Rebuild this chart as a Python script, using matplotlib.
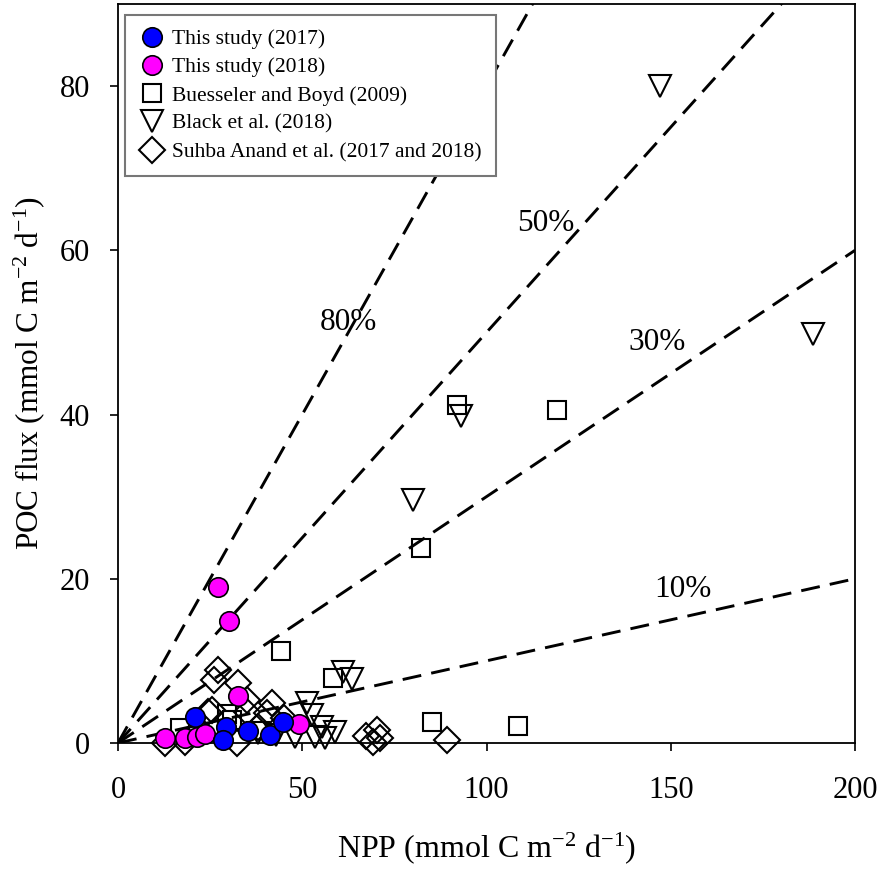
import numpy as np
import matplotlib
matplotlib.use("Agg")
import matplotlib.pyplot as plt

plt.rcParams['font.family'] = ['Liberation Serif', 'DejaVu Serif']
plt.rcParams['mathtext.fontset'] = 'custom'
plt.rcParams['mathtext.rm'] = 'Liberation Serif'
plt.rcParams['mathtext.it'] = 'Liberation Serif:italic'

# data (NPP, POC flux)
x_2017 = [20.9, 29.3, 28.5, 35.4, 41.3, 44.8]
y_2017 = [3.2, 1.9, 0.4, 1.5, 1.0, 2.5]

x_2018 = [27.1, 30.1, 32.5, 49.1, 12.8, 18.1, 21.3, 23.5]
y_2018 = [19.0, 14.9, 5.7, 2.3, 0.6, 0.6, 0.7, 1.1]

x_bb = [92.0, 119.2, 82.2, 44.2, 58.3, 85.2, 108.5, 29.7, 16.8, 31.0]
y_bb = [41.2, 40.6, 23.7, 11.2, 7.9, 2.6, 2.1, 3.5, 1.8, 2.8]

x_black = [147.0, 188.6, 93.1, 80.0, 61.0, 63.5, 51.3, 52.6, 55.4, 58.9, 53.5, 56.2, 43.0, 48.0, 38.0]
y_black = [80.0, 49.8, 39.8, 29.6, 8.7, 7.8, 4.9, 3.4, 2.0, 1.3, 0.7, 0.6, 1.0, 0.7, 1.2]

x_anand = [27.1, 26.0, 32.6, 35.0, 41.7, 40.4, 35.0, 24.4, 25.5, 12.8, 18.2, 32.3,
           67.2, 70.3, 69.2, 71.0, 89.3, 45.0, 38.0]
y_anand = [8.9, 7.7, 7.3, 5.2, 4.9, 3.6, 3.8, 3.8, 4.0, 0.0, 0.1, 0.0,
           0.8, 1.6, 0.1, 0.6, 0.4, 3.0, 2.0]

# export efficiency lines
ratios = [0.8, 0.5, 0.3, 0.1]
ratio_labels = ['80%', '50%', '30%', '10%']
label_x = [62.4, 116.1, 146.3, 153.3]
label_y = [51.2, 63.3, 48.8, 18.7]

fig = plt.figure(figsize=(8.86, 8.71), dpi=100)
ax = fig.add_axes([0.1332, 0.147, 0.8318, 0.8484])

xx = np.array([0, 200])
for r in ratios:
    ax.plot(xx, r * xx, color='black', lw=2.1, dashes=(6.5, 3.5), zorder=1)
for t, lx, ly in zip(ratio_labels, label_x, label_y):
    ax.text(lx, ly, t, fontsize=22.5, ha='center', va='center')

ms = 14
ax.plot(x_anand, y_anand, 'D', ms=13, mfc='none', mec='black', mew=1.5, ls='none',
        clip_on=False, zorder=2, label='Suhba Anand et al. (2017 and 2018)')
ax.plot(x_black, y_black, 'v', ms=16, mfc='none', mec='black', mew=1.5, ls='none',
        clip_on=False, zorder=2, label='Black et al. (2018)')
ax.plot(x_bb, y_bb, 's', ms=13, mfc='none', mec='black', mew=1.5, ls='none',
        clip_on=False, zorder=2, label='Buesseler and Boyd (2009)')
ax.plot(x_2018, y_2018, 'o', ms=ms, mfc='#ff00ff', mec='black', mew=1.2, ls='none',
        clip_on=False, zorder=3, label='This study (2018)')
ax.plot(x_2017, y_2017, 'o', ms=ms, mfc='#0000ff', mec='black', mew=1.2, ls='none',
        clip_on=False, zorder=4, label='This study (2017)')

ax.set_xlim(0, 200)
ax.set_ylim(0, 90)
ax.set_xticks([0, 50, 100, 150, 200])
ax.set_yticks([0, 20, 40, 60, 80])
ax.tick_params(direction='out', length=6, width=1.2, labelsize=22)
ax.tick_params(axis='x', pad=18)
ax.tick_params(axis='y', pad=14)
for s in ax.spines.values():
    s.set_linewidth(1.3)

ax.set_xlabel(r'NPP (mmol C m$^{-2}$ d$^{-1}$)', fontsize=23, labelpad=18)
ax.set_ylabel(r'POC flux (mmol C m$^{-2}$ d$^{-1}$)', fontsize=22.5, labelpad=9)

handles, labels = ax.get_legend_handles_labels()
order = [4, 3, 2, 1, 0]
leg = ax.legend([handles[i] for i in order], [labels[i] for i in order],
                loc='upper left', bbox_to_anchor=(0.009, 0.985), fontsize=15.5,
                fancybox=False, framealpha=1, edgecolor='#777777', handlelength=1.2,
                handletextpad=0.35, labelspacing=0.38, borderpad=0.65,
                borderaxespad=0.0, markerscale=1.0)
leg.get_frame().set_linewidth(1.5)
leg.set_zorder(10)

fig.savefig('out.png', dpi=100)
